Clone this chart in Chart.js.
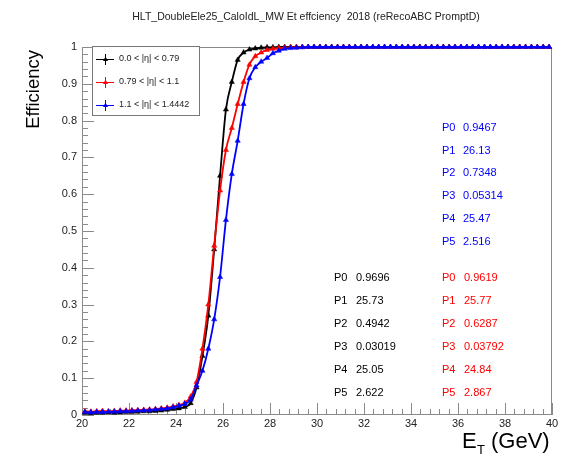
<!DOCTYPE html>
<html><head><meta charset="utf-8">
<script src="https://cdn.jsdelivr.net/npm/chart.js@4"></script>
<style>html,body{margin:0;padding:0;background:#fff;}#wrap{width:565px;height:461px;}</style>
</head><body><div id="wrap"><canvas id="c" width="565" height="461"></canvas></div>
<script>
const binCenters = [20.125,20.375,20.625,20.875,21.125,21.375,21.625,21.875,22.125,22.375,22.625,22.875,23.125,23.375,23.625,23.875,
24.125,24.375,24.625,24.875,25.125,25.375,25.625,25.875,26.125,26.375,26.625,26.875,27.125,27.375,27.625,27.875,
28.125,28.375,28.625,28.875,29.125,29.375,29.625,29.875,30.125,30.375,30.625,30.875,31.125,31.375,31.625,31.875,
32.125,32.375,32.625,32.875,33.125,33.375,33.625,33.875,34.125,34.375,34.625,34.875,35.125,35.375,35.625,35.875,
36.125,36.375,36.625,36.875,37.125,37.375,37.625,37.875,38.125,38.375,38.625,38.875,39.125,39.375,39.625,39.875];

const effEtaLow = [0.006,0.005,0.006,0.006,0.007,0.006,0.007,0.008,0.008,0.009,0.010,0.010,0.011,0.012,0.014,0.016,
0.018,0.022,0.032,0.075,0.16,0.27,0.45,0.65,0.83,0.905,0.965,0.985,0.993,0.996,0.998,0.999,
0.999,1,1,1,1,1,1,1,1,1,1,1,1,1,1,1,
1,1,1,1,1,1,1,1,1,1,1,1,1,1,1,1,
1,1,1,1,1,1,1,1,1,1,1,1,1,1,1,1];

const effEtaMid = [0.010,0.009,0.010,0.011,0.010,0.011,0.012,0.012,0.013,0.013,0.014,0.015,0.016,0.018,0.020,0.023,
0.027,0.033,0.050,0.090,0.18,0.30,0.46,0.61,0.72,0.78,0.845,0.905,0.952,0.975,0.985,0.992,
0.995,0.997,0.998,0.999,0.999,1,1,1,1,1,1,1,1,1,1,1,
1,1,1,1,1,1,1,1,1,1,1,1,1,1,1,1,
1,1,1,1,1,1,1,1,1,1,1,1,1,1,1,1];

const effEtaHigh = [0.008,0.007,0.008,0.008,0.009,0.009,0.010,0.010,0.011,0.012,0.012,0.013,0.015,0.016,0.018,0.021,
0.025,0.030,0.042,0.080,0.12,0.18,0.26,0.375,0.53,0.655,0.745,0.845,0.915,0.945,0.96,0.97,
0.983,0.99,0.995,0.997,0.998,0.999,1,1,1,1,1,1,1,1,1,1,
1,1,1,1,1,1,1,1,1,1,1,1,1,1,1,1,
1,1,1,1,1,1,1,1,1,1,1,1,1,1,1,1];

const seriesLabels = ['0.0 < |\u03B7| < 0.79', '0.79 < |\u03B7| < 1.1', '1.1 < |\u03B7| < 1.4442'];
const xTickValues = [20,22,24,26,28,30,32,34,36,38,40];
const yTickValues = [0,0.1,0.2,0.3,0.4,0.5,0.6,0.7,0.8,0.9,1];
const paramNames = ['P0','P1','P2','P3','P4','P5'];
const paramsEtaLow = ['0.9696','25.73','0.4942','0.03019','25.05','2.622'];
const paramsEtaMid = ['0.9619','25.77','0.6287','0.03792','24.84','2.867'];
const paramsEtaHigh = ['0.9467','26.13','0.7348','0.05314','25.47','2.516'];
const titleText = 'HLT_DoubleEle25_CaloIdL_MW Et effciency  2018 (reRecoABC PromptD)';

const FONT = '"Liberation Sans", Arial, Helvetica, sans-serif';
const colors = ['#000000', '#ff0000', '#0000ff'];

function pts(arr){ return binCenters.map((x,i)=>({x:x, y:arr[i]})); }

const decor = {
  id: 'decor',
  beforeDatasetsDraw(chart){
    const ctx = chart.ctx, a = chart.chartArea;
    const xs = chart.scales.x, ys = chart.scales.y;
    ctx.save();
    ctx.strokeStyle = '#8a8a8a';
    ctx.lineWidth = 1;
    ctx.strokeRect(a.left+0.5, a.top+0.5, a.right-a.left-1, a.bottom-a.top-1);
    ctx.beginPath();
    for (let i=0;i<xTickValues.length;i++){
      const v = xTickValues[i];
      const px = Math.round(xs.getPixelForValue(v))+0.5;
      ctx.moveTo(px, a.bottom); ctx.lineTo(px, a.bottom-12);
      if (i < xTickValues.length-1){
        const step = (xTickValues[i+1]-v)/5;
        for (let k=1;k<5;k++){
          const mp = Math.round(xs.getPixelForValue(v+k*step))+0.5;
          ctx.moveTo(mp, a.bottom); ctx.lineTo(mp, a.bottom-6);
        }
      }
    }
    for (let i=0;i<yTickValues.length;i++){
      const v = yTickValues[i];
      const py = Math.round(ys.getPixelForValue(v))+0.5;
      ctx.moveTo(a.left, py); ctx.lineTo(a.left+12, py);
      if (i < yTickValues.length-1){
        const step = (yTickValues[i+1]-v)/5;
        for (let k=1;k<5;k++){
          const mp = Math.round(ys.getPixelForValue(v+k*step))+0.5;
          ctx.moveTo(a.left, mp); ctx.lineTo(a.left+6, mp);
        }
      }
    }
    ctx.stroke();
    ctx.restore();
  },
  afterDraw(chart){
    const ctx = chart.ctx;
    ctx.save();
    ctx.fillStyle = '#222';
    ctx.font = '10.5px ' + FONT;
    ctx.textAlign = 'center'; ctx.textBaseline = 'middle';
    ctx.fillText(titleText, 306, 17);
    ctx.save();
    ctx.translate(34, 50);
    ctx.rotate(-Math.PI/2);
    ctx.font = '18.5px ' + FONT;
    ctx.textAlign = 'right'; ctx.textBaseline = 'middle';
    ctx.fillStyle = '#000';
    ctx.fillText('Efficiency', 0, 0);
    ctx.restore();
    ctx.fillStyle = '#000';
    ctx.textAlign = 'left'; ctx.textBaseline = 'alphabetic';
    ctx.font = '22px ' + FONT;
    ctx.fillText('E', 462, 448);
    ctx.font = '13px ' + FONT;
    ctx.fillText('T', 477, 454);
    ctx.font = '22px ' + FONT;
    ctx.fillText('(GeV)', 491, 448);
    ctx.fillStyle = '#fff';
    ctx.fillRect(92, 47, 107, 69);
    ctx.strokeStyle = '#777';
    ctx.lineWidth = 1;
    ctx.strokeRect(92.5, 46.5, 107, 69);
    const ly = [59, 82, 105];
    for (let i=0;i<3;i++){
      ctx.strokeStyle = colors[i]; ctx.fillStyle = colors[i];
      ctx.lineWidth = 1;
      ctx.beginPath();
      ctx.moveTo(96, ly[i]+0.5); ctx.lineTo(114, ly[i]+0.5);
      ctx.moveTo(105.5, ly[i]-5); ctx.lineTo(105.5, ly[i]+6);
      ctx.stroke();
      ctx.beginPath();
      ctx.moveTo(105.5, ly[i]-2.5); ctx.lineTo(108, ly[i]+2); ctx.lineTo(103, ly[i]+2); ctx.closePath();
      ctx.fill();
      ctx.fillStyle = '#222';
      ctx.font = '9px ' + FONT;
      ctx.textAlign = 'left'; ctx.textBaseline = 'middle';
      ctx.fillText(seriesLabels[i], 119, ly[i]);
    }
    ctx.font = '11px ' + FONT;
    ctx.textAlign = 'left'; ctx.textBaseline = 'middle';
    for (let i=0;i<6;i++){
      ctx.fillStyle = colors[2];
      ctx.fillText(paramNames[i], 442, 128 + i*22.7);
      ctx.fillText(paramsEtaHigh[i], 463, 128 + i*22.7);
      ctx.fillStyle = colors[0];
      ctx.fillText(paramNames[i], 334, 278 + i*23);
      ctx.fillText(paramsEtaLow[i], 356, 278 + i*23);
      ctx.fillStyle = colors[1];
      ctx.fillText(paramNames[i], 442, 278 + i*23);
      ctx.fillText(paramsEtaMid[i], 464, 278 + i*23);
    }
    ctx.restore();
  }
};

function ds(label, arr, color, order){
  return {
    label: label, data: pts(arr), order: order,
    borderColor: color, backgroundColor: color,
    borderWidth: 1.8, pointStyle: 'triangle', pointRadius: 3,
    pointBorderWidth: 0.5, pointBackgroundColor: color, pointBorderColor: color,
    cubicInterpolationMode: 'monotone', clip: false, showLine: true
  };
}

new Chart(document.getElementById('c'), {
  type: 'scatter',
  data: { datasets: [
    ds(seriesLabels[0], effEtaLow, colors[0], 3),
    ds(seriesLabels[1], effEtaMid, colors[1], 2),
    ds(seriesLabels[2], effEtaHigh, colors[2], 1)
  ]},
  options: {
    responsive: false, animation: false, devicePixelRatio: 1,
    layout: { padding: { top: 47, right: 13, left: 0, bottom: 0 } },
    plugins: { legend: { display: false }, tooltip: { enabled: false }, title: { display: false } },
    scales: {
      x: {
        type: 'linear', min: 20, max: 40,
        afterBuildTicks(s){ s.ticks = xTickValues.map(v=>({value:v})); },
        afterFit(s){ s.height = 46; },
        grid: { display: false, drawTicks: false },
        border: { display: false },
        ticks: { autoSkip: false, maxRotation: 0, padding: 2, color: '#222',
          font: { family: FONT, size: 11 }, callback: v => String(v) }
      },
      y: {
        type: 'linear', min: 0, max: 1,
        afterBuildTicks(s){ s.ticks = yTickValues.map(v=>({value:v})); },
        afterFit(s){ s.width = 82; },
        grid: { display: false, drawTicks: false },
        border: { display: false },
        ticks: { autoSkip: false, padding: 5, color: '#222',
          font: { family: FONT, size: 11 }, callback: v => (v===0?'0':v===1?'1':v.toFixed(1)) }
      }
    }
  },
  plugins: [decor]
});
</script>
</body></html>
